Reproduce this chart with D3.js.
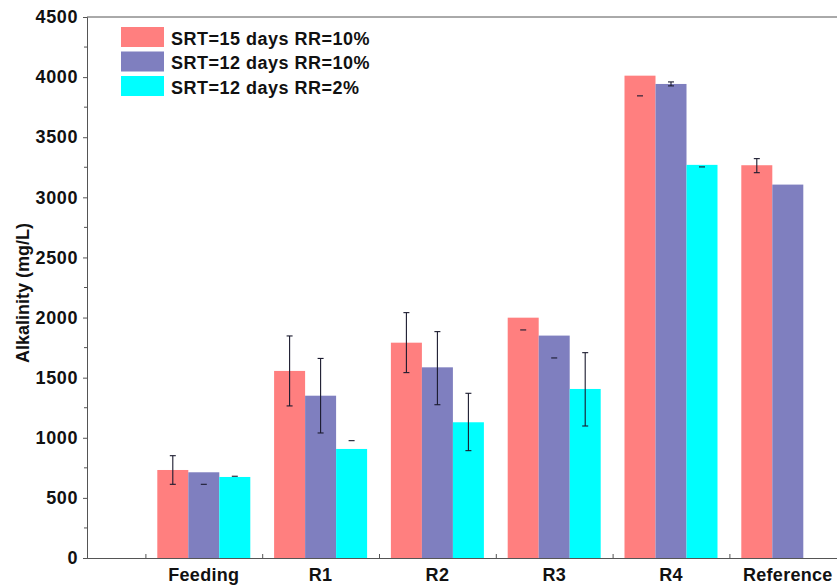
<!DOCTYPE html>
<html>
<head>
<meta charset="utf-8">
<script src="https://cdn.jsdelivr.net/npm/d3@7"></script>
<style>
  body { margin: 0; background: #fff; }
  svg { display: block; font-family: Arial, "Liberation Sans", sans-serif; }
</style>
</head>
<body>
<svg id="chart" width="837" height="587"></svg>
<script>
// Datos
const categories = ["Feeding", "R1", "R2", "R3", "R4", "Reference"];
const seriesNames = ["SRT=15 days RR=10%", "SRT=12 days RR=10%", "SRT=12 days RR=2%"];
const seriesColors = ["#FF7F7F", "#7F7FBF", "#00FFFF"];

const srt15rr10 = [732, 1556, 1791, 1999, 4012, 3267];
const srt12rr10 = [713, 1350, 1586, 1850, 3943, 3106];
const srt12rr2  = [674, 907, 1129, 1406, 3270, null];

// Extremos de las barras de error (null = no se ve)
const errLow15  = [613, 1265, 1542, 1897, 3844, 3205];
const errHigh15 = [851, 1847, 2041, null, null, 3322];
const errLow12  = [613, 1040, 1275, 1664, 3927, null];
const errHigh12 = [null, 1660, 1883, null, 3960, null];
const errLow2   = [null, null, 893, 1098, 3253, null];
const errHigh2  = [680, 976, 1370, 1708, null, null];

const yTicks = [0, 500, 1000, 1500, 2000, 2500, 3000, 3500, 4000, 4500];

const series = [
  { name: seriesNames[0], color: seriesColors[0], values: srt15rr10, lo: errLow15, hi: errHigh15 },
  { name: seriesNames[1], color: seriesColors[1], values: srt12rr10, lo: errLow12, hi: errHigh12 },
  { name: seriesNames[2], color: seriesColors[2], values: srt12rr2,  lo: errLow2,  hi: errHigh2 }
];

const svg = d3.select("#chart");
const mLeft = 87, mTop = 17, mBottom = 558;
const step = 116.8;

const x = d3.scaleLinear().domain([0, 7]).range([mLeft, mLeft + 7 * step]);
const y = d3.scaleLinear().domain([0, 4500]).range([mBottom, mTop]);
const barW = 31;

// Barras
series.forEach((s, si) => {
  const g = svg.append("g");
  categories.forEach((c, i) => {
    const v = s.values[i];
    if (v == null) return;
    const x0 = x(i + 1) + (si - 1.5) * barW;
    g.append("rect")
      .attr("x", x0)
      .attr("y", y(v))
      .attr("width", barW)
      .attr("height", y(0) - y(v))
      .attr("fill", s.color);
  });
});

// Barras de error
series.forEach((s, si) => {
  const g = svg.append("g").attr("stroke", "#1a1a2e").attr("stroke-width", 1.1);
  categories.forEach((c, i) => {
    const cx = x(i + 1) + (si - 1) * barW;
    const lo = s.lo[i], hi = s.hi[i];
    if (lo != null && hi != null) {
      g.append("line").attr("x1", cx).attr("x2", cx).attr("y1", y(lo)).attr("y2", y(hi));
    }
    [lo, hi].forEach(e => {
      if (e == null) return;
      g.append("line").attr("x1", cx - 3).attr("x2", cx + 3).attr("y1", y(e)).attr("y2", y(e));
    });
  });
});

// Marco
svg.append("line").attr("x1", mLeft).attr("x2", 837).attr("y1", mTop).attr("y2", mTop)
  .attr("stroke", "#555").attr("stroke-width", 1);

// Eje Y
const yAxis = svg.append("g")
  .attr("transform", `translate(${mLeft},0)`)
  .call(d3.axisLeft(y).tickValues(yTicks).tickFormat(d3.format("d")).tickSize(4).tickPadding(5));
yAxis.select(".domain").attr("stroke", "#555");
yAxis.selectAll(".tick line").attr("stroke", "#555");
yAxis.selectAll(".tick text")
  .attr("fill", "#111")
  .style("font-size", "18px")
  .style("font-weight", "bold")
  .style("letter-spacing", "0.6px");

svg.append("g").selectAll("line")
  .data(d3.range(250, 4500, 500))
  .join("line")
  .attr("x1", mLeft - 3).attr("x2", mLeft)
  .attr("y1", d => y(d)).attr("y2", d => y(d))
  .attr("stroke", "#555");

// Eje X
const xAxis = svg.append("g")
  .attr("transform", `translate(0,${mBottom})`)
  .call(d3.axisBottom(x).tickValues(d3.range(0.5, 7, 1)).tickSize(-4).tickFormat(""));
xAxis.select(".domain").attr("stroke", "#555");
xAxis.selectAll(".tick line").attr("stroke", "#555");

svg.append("g").selectAll("text")
  .data(categories)
  .join("text")
  .attr("x", (d, i) => x(i + 1))
  .attr("y", 581)
  .attr("text-anchor", "middle")
  .attr("fill", "#111")
  .style("font-size", "18px")
  .style("font-weight", "bold")
  .style("letter-spacing", "0.3px")
  .text(d => d);

// Titulo del eje Y
svg.append("text")
  .attr("transform", "translate(29,293) rotate(-90)")
  .attr("text-anchor", "middle")
  .attr("fill", "#111")
  .style("font-size", "18px")
  .style("font-weight", "bold")
  .text("Alkalinity (mg/L)");

// Leyenda
const legend = svg.append("g");
series.forEach((s, i) => {
  legend.append("rect")
    .attr("x", 121).attr("y", 27 + i * 24.5)
    .attr("width", 43).attr("height", 20)
    .attr("fill", s.color);
  legend.append("text")
    .attr("x", 171).attr("y", 45 + i * 24.3)
    .attr("fill", "#111")
    .style("font-size", "18px")
    .style("font-weight", "bold")
    .style("letter-spacing", "0.5px")
    .text(s.name);
});
</script>
</body>
</html>
